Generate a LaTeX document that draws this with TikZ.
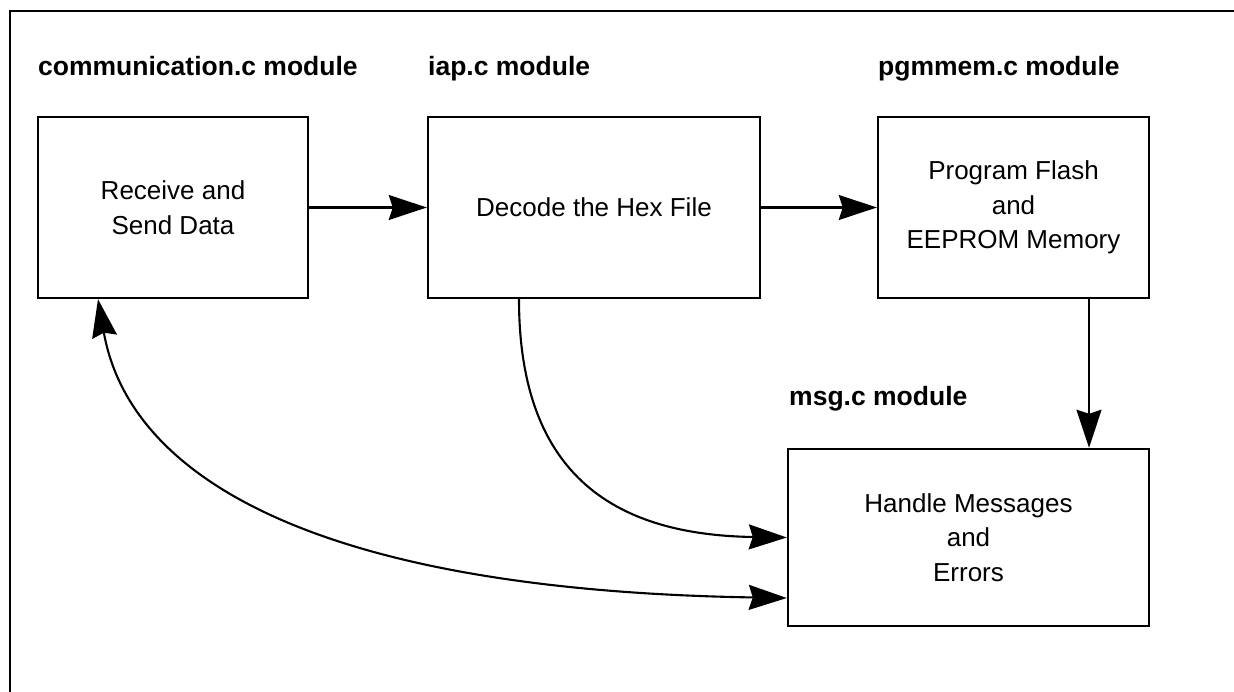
\documentclass[tikz,border=0pt]{standalone}
\usepackage{fontspec}
\setmainfont{Liberation Sans}
\usetikzlibrary{arrows.meta}
\begin{document}
\begin{tikzpicture}[x=1pt,y=-1pt,
  box/.style={draw,line width=2.4pt,inner sep=0pt,align=center,
    font=\fontsize{26}{34.5}\selectfont},
  lbl/.style={anchor=base west,inner sep=0pt,font=\fontsize{26.5}{30}\selectfont\bfseries},
  tip/.style={},
  arr/.style={line width=2.1pt,-{Stealth[length=38pt,width=25pt,inset=4pt]}},
  darr/.style={line width=2.1pt,{Stealth[length=38pt,width=25pt,inset=4pt]}-{Stealth[length=38pt,width=25pt,inset=4pt]}}]
\useasboundingbox (0,0) rectangle (1234,692);
% frame
\draw[line width=2.8pt] (10,692) -- (10,11) -- (1234,11);
% boxes
\node[box,minimum width=270pt,minimum height=181pt] (b1) at (173,207.5) {Receive and\\Send Data};
\node[box,minimum width=332pt,minimum height=181pt] (b2) at (594,207.5) {Decode the Hex File};
\node[box,minimum width=271pt,minimum height=181pt] (b3) at (1013.5,207.5) {Program Flash\\and\\EEPROM Memory};
\node[box,minimum width=361pt,minimum height=177pt] (b4) at (968.5,537.5) {Handle Messages\\and\\Errors};
% labels
\node[lbl] (l1) at (38,76) {communication.c module};
\node[lbl] (l2) at (428,76) {iap.c module};
\node[lbl] (l3) at (878,76) {pgmmem.c module};
\node[lbl] (l4) at (789,405) {msg.c module};
% connectors
\draw[arr] (b1.east) -- (b2.west);
\draw[arr] (b2.east) -- (b3.west);
\draw[arr] (b3.south -| 1089,0) -- (b4.north -| 1089,0);
\draw[arr] (b2.south -| 519,0) .. controls (519,480) and (620,535) .. (b4.west);
\draw[darr] (b1.south -| 98,0) .. controls (128,470) and (300,590) .. (b4.west |- 0,598);
\end{tikzpicture}
\end{document}
